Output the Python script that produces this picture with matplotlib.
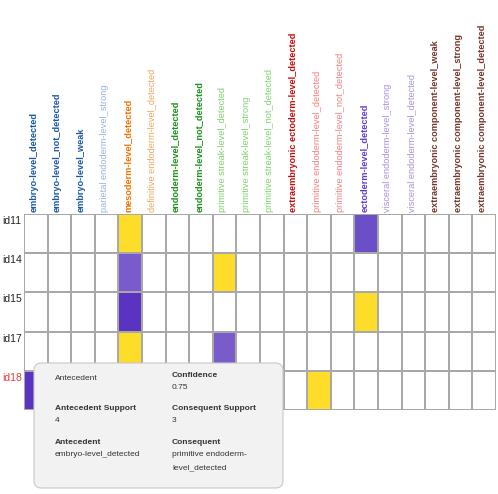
import matplotlib
matplotlib.use("Agg")
import matplotlib.pyplot as plt
import numpy as np
from matplotlib.colors import ListedColormap, BoundaryNorm
from matplotlib.patches import FancyBboxPatch

plt.rcParams['font.family'] = ['Liberation Sans', 'DejaVu Sans']

columns = [
    "embryo-level_detected", "embryo-level_not_detected", "embryo-level_weak",
    "parietal endoderm-level_strong", "mesoderm-level_detected",
    "definitive endoderm-level_detected", "endoderm-level_detected",
    "endoderm-level_not_detected", "primitive streak-level_detected",
    "primitive streak-level_strong", "primitive streak-level_not_detected",
    "extraembryonic ectoderm-level_detected", "primitive endoderm-level_detected",
    "primitive endoderm-level_not_detected", "ectoderm-level_detected",
    "visceral endoderm-level_strong", "visceral endoderm-level_detected",
    "extraembryonic component-level_weak", "extraembryonic component-level_strong",
    "extraembryonic component-level_detected",
]
column_colors = [
    "#1a58a4", "#1a58a4", "#1a58a4", "#98b2de", "#f07400", "#f2a65c",
    "#1a921a", "#1a921a", "#7cd46a", "#7cd46a", "#7cd46a", "#c80c0c",
    "#f2807e", "#f2807e", "#653ad0", "#a891d4", "#a891d4",
    "#74362a", "#74362a", "#74362a",
]
column_bold = [True, True, True, False, True, False, True, True, False, False,
               False, True, False, False, True, False, False, True, True, True]

rows = ["id11", "id14", "id15", "id17", "id18"]
row_colors = ["#222222", "#222222", "#222222", "#222222", "#e03a3a"]

# cell codes: 0 empty, 1 consequent (yellow), 2..4 antecedent (purple shades)
cells = {
    "id11": {"mesoderm-level_detected": 1, "ectoderm-level_detected": 3},
    "id14": {"mesoderm-level_detected": 2, "primitive streak-level_detected": 1},
    "id15": {"mesoderm-level_detected": 4, "ectoderm-level_detected": 1},
    "id17": {"mesoderm-level_detected": 1, "primitive streak-level_detected": 2},
    "id18": {"embryo-level_detected": 4, "primitive endoderm-level_detected": 1},
}
cell_palette = ["#ffffff", "#fedd2a", "#7a5bcb", "#6b4fc8", "#5a33c2"]

tooltip_labels = ["Antecedent", "Confidence", "Antecedent Support",
                  "Consequent Support", "Antecedent", "Consequent"]
tooltip_values = ["", "0.75", "4", "3", "embryo-level_detected",
                  "primitive endoderm-\nlevel_detected"]

W, H = 498, 494
fig = plt.figure(figsize=(W / 100, H / 100), dpi=100)
ax = fig.add_axes([24 / W, 1 - 410 / H, 472 / W, 196 / H])

mat = np.zeros((len(rows), len(columns)))
for i, r in enumerate(rows):
    for c, v in cells[r].items():
        mat[i, columns.index(c)] = v

cmap = ListedColormap(cell_palette)
norm = BoundaryNorm(np.arange(-0.5, len(cell_palette) + 0.5, 1), cmap.N)
ax.pcolormesh(np.arange(len(columns) + 1), np.arange(len(rows) + 1), mat,
              cmap=cmap, norm=norm, edgecolors="#a8a8a8", linewidth=1.3)
ax.set_xlim(0, len(columns))
ax.set_ylim(len(rows), 0)
ax.set_xticks([])
ax.set_yticks([])
for s in ax.spines.values():
    s.set_visible(False)

for j, (c, col, b) in enumerate(zip(columns, column_colors, column_bold)):
    ax.text(j + 0.42, -0.05, c, rotation=90, ha="center", va="bottom",
            color=col, fontsize=6.6, fontweight="bold" if b else "normal")

for i, (r, col) in enumerate(zip(rows, row_colors)):
    ax.text(-0.1, i + 0.18, r, ha="right", va="center", color=col, fontsize=7.5)

# tooltip
tx0, ty0, tx1, ty1 = 34, 363, 283, 488
box = FancyBboxPatch((tx0 / W, 1 - ty1 / H), (tx1 - tx0) / W, (ty1 - ty0) / H,
                     boxstyle="round,pad=0,rounding_size=0.015",
                     transform=fig.transFigure, facecolor="#f2f2f2",
                     edgecolor="#c8c8c8", linewidth=0.8, zorder=5)
fig.patches.append(box)

positions = [(55, 378), (172, 375), (55, 408), (172, 408), (55, 442), (172, 442)]
for k, ((px, py), lab, val) in enumerate(zip(positions, tooltip_labels, tooltip_values)):
    fig.text(px / W, 1 - py / H, lab, ha="left", va="center", fontsize=6,
             fontweight="normal" if k == 0 else "bold", color="#333333", zorder=6)
    if val:
        fig.text(px / W, 1 - (py + 9) / H, val, ha="left", va="top", fontsize=6,
                 color="#333333", linespacing=2.3, zorder=6)

fig.savefig("out.png", dpi=100)
